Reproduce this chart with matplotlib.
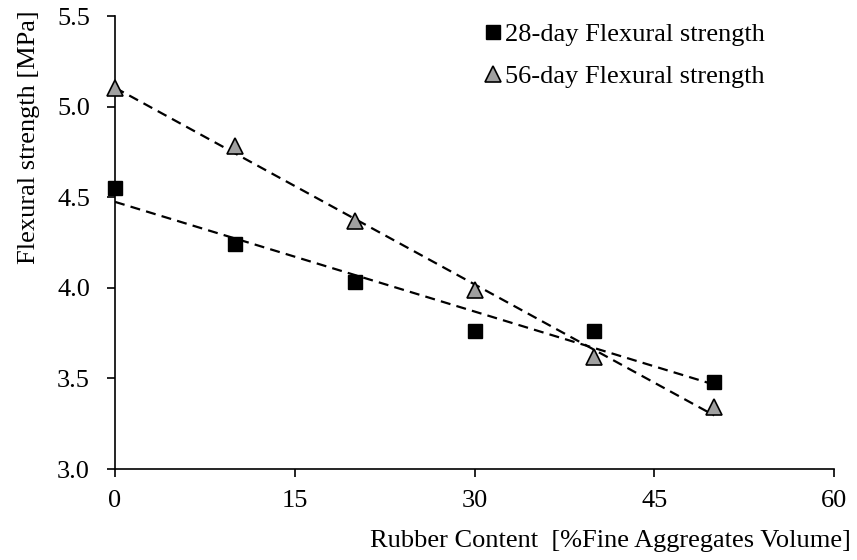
import numpy as np
from matplotlib import pyplot as plt

plt.rcParams['font.family'] = ['Liberation Serif', 'DejaVu Serif']

# Rubber content (% of fine aggregate volume)
rubber = [0, 10, 20, 30, 40, 50]
# Flexural strength [MPa]
flex_28 = [4.55, 4.24, 4.03, 3.76, 3.76, 3.48]
flex_56 = [5.10, 4.78, 4.37, 3.99, 3.62, 3.34]

x_ticks = [0, 15, 30, 45, 60]
y_ticks = [3.0, 3.5, 4.0, 4.5, 5.0, 5.5]

FS = 19

if __name__ == '__main__':
    fig = plt.figure(figsize=(8.57, 5.6), dpi=100)
    ax = fig.add_axes([0.1342, 0.1625, 0.839, 0.8089])

    x = np.array(rubber)

    # linear trend lines (fitted from the data)
    for series in (flex_28, flex_56):
        slope, intercept = np.polyfit(x, np.array(series), 1)
        ax.plot(x, slope * x + intercept, color='black', linestyle=(0, (4.5, 2.8)),
                linewidth=1.6, zorder=2)

    ax.plot(rubber, flex_28, linestyle='none', marker='s', markersize=10,
            markerfacecolor='black', markeredgecolor='black',
            label='28-day Flexural strength', zorder=3, clip_on=False)
    ax.plot(rubber, flex_56, linestyle='none', marker='^', markersize=11,
            markerfacecolor='#a0a0a0', markeredgecolor='black', markeredgewidth=1.2,
            label='56-day Flexural strength', zorder=3, clip_on=False)

    ax.set_xlim(0, 60)
    ax.set_ylim(3.0, 5.5)
    ax.set_xticks(x_ticks)
    ax.set_yticks(y_ticks)
    ax.set_yticklabels(['{:.1f}'.format(v) for v in y_ticks])

    for side in ('top', 'right'):
        ax.spines[side].set_visible(False)
    for side in ('left', 'bottom'):
        ax.spines[side].set_linewidth(1.2)
    ax.tick_params(direction='out', length=6, width=1.2, labelsize=FS)
    ax.tick_params(axis='y', pad=12)
    ax.tick_params(axis='x', pad=9)

    fig.text(0.993, 0.034, 'Rubber Content  [%Fine Aggregates Volume]',
             ha='right', va='center', fontsize=FS)
    fig.text(0.034, 0.755, 'Flexural strength [MPa]', rotation=90,
             ha='center', va='center', fontsize=FS)

    ax.legend(loc='upper left', bbox_to_anchor=(0.543, 0.993),
              bbox_transform=fig.transFigure, frameon=False, fontsize=FS,
              handlelength=0.7, handletextpad=0.1, labelspacing=0.72,
              borderpad=0.2)

    plt.savefig('out.png', dpi=100)
